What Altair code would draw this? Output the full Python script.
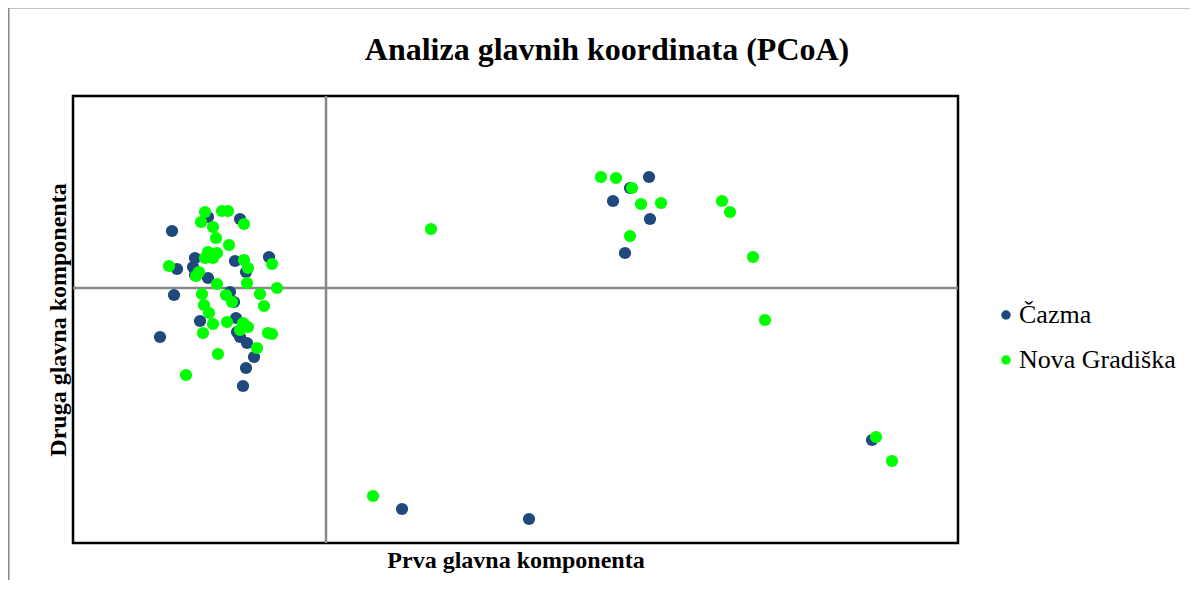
import altair as alt
import pandas as pd

# PC coordinates (arbitrary units)
cazma_pc1 = [-1.54, -0.86, -1.18, -1.31, -1.49, -0.91, -0.57, -1.33, -1.31, -1.18,
             -0.80, -1.52, -0.96, -0.92, -1.26, -0.90, -0.89, -0.86, -0.79, -1.66,
             -0.72, -0.80, -0.83, 3.04, 3.23, 2.87, 3.24, 2.99, 0.76, 2.03, 5.46]
cazma_pc2 = [0.57, 0.69, 0.71, 0.30, 0.19, 0.27, 0.31, 0.21, 0.13, 0.10,
             0.16, -0.07, -0.04, -0.14, -0.33, -0.30, -0.44, -0.49, -0.55, -0.49,
             -0.69, -0.80, -0.98, 1.00, 1.11, 0.87, 0.69, 0.35, -2.21, -2.31, -1.52]

nova_pc1 = [-1.21, -1.04, -0.98, -1.25, -0.82, -1.13, -1.10, -0.97, -1.18, -1.09,
            -1.13, -1.21, -1.57, -0.82, -0.78, -0.54, -1.27, -1.30, -1.09, -0.79,
            -0.49, -1.24, -1.00, -0.66, -0.94, -0.62, -1.22, -1.17, -1.13, -0.99,
            -1.23, -0.83, -0.78, -0.86, -0.58, -0.54, -0.69, -1.08, -1.40,
            2.75, 2.90, 3.06, 3.15, 3.35, 3.96, 4.04, 3.04, 4.27, 1.05, 4.39,
            0.47, 5.50, 5.66]
nova_pc2 = [0.76, 0.77, 0.77, 0.66, 0.64, 0.61, 0.50, 0.43, 0.36, 0.35,
            0.30, 0.30, 0.22, 0.28, 0.20, 0.24, 0.16, 0.12, 0.04, 0.05,
            0.00, -0.06, -0.07, -0.06, -0.14, -0.18, -0.17, -0.25, -0.36, -0.34,
            -0.45, -0.35, -0.39, -0.42, -0.45, -0.46, -0.60, -0.66, -0.87,
            1.11, 1.10, 1.00, 0.84, 0.85, 0.87, 0.76, 0.52, 0.31, 0.59, -0.32,
            -2.08, -1.49, -1.73]

groups = ["Čazma", "Nova Gradiška"]
colors = ["#1f497d", "#00ff00"]
title_text = ["Analiza glavnih koordinata (PCoA)"]

x_domain = [-2.53, 6.32]
y_domain = [-2.55, 1.92]

rows = []
for a, b in zip(cazma_pc1, cazma_pc2):
    rows.append({"pc1": a, "pc2": b, "grupa": groups[0], "ord": 0})
for a, b in zip(nova_pc1, nova_pc2):
    rows.append({"pc1": a, "pc2": b, "grupa": groups[1], "ord": 1})
df = pd.DataFrame(rows)

FONT = "Liberation Serif"

x_axis = alt.Axis(title="Prva glavna komponenta", labels=False, ticks=False, domain=False,
                  grid=False, titleFont=FONT, titleFontSize=24, titleFontWeight="bold",
                  titleColor="black", titlePadding=5)
y_axis = alt.Axis(title="Druga glavna komponenta", labels=False, ticks=False, domain=False,
                  grid=False, titleFont=FONT, titleFontSize=24, titleFontWeight="bold",
                  titleColor="black", titlePadding=3)

outer = alt.Chart(pd.DataFrame({"a": [0]})).mark_rect(
    filled=False, stroke="#888888", strokeWidth=2
).encode(x=alt.value(-64.5), x2=alt.value(1300), y=alt.value(-88.5), y2=alt.value(700))

title = alt.Chart(pd.DataFrame({"t": title_text})).mark_text(
    font=FONT, fontSize=32, fontWeight="bold", color="black", align="center", baseline="middle"
).encode(text="t:N", x=alt.value(534), y=alt.value(-46))

zero_x = alt.Chart(pd.DataFrame({"v": [0]})).mark_rule(color="#888888", strokeWidth=2.5).encode(
    x=alt.X("v:Q", scale=alt.Scale(domain=x_domain, nice=False, zero=False), axis=x_axis)
)
zero_y = alt.Chart(pd.DataFrame({"v": [0]})).mark_rule(color="#888888", strokeWidth=2.5).encode(
    y=alt.Y("v:Q", scale=alt.Scale(domain=y_domain, nice=False, zero=False), axis=y_axis)
)

points = alt.Chart(df).mark_circle(size=150, opacity=1).encode(
    x=alt.X("pc1:Q", scale=alt.Scale(domain=x_domain, nice=False, zero=False), axis=x_axis),
    y=alt.Y("pc2:Q", scale=alt.Scale(domain=y_domain, nice=False, zero=False), axis=y_axis),
    color=alt.Color("grupa:N", scale=alt.Scale(domain=groups, range=colors),
                    legend=alt.Legend(title=None, orient="none", legendX=920, legendY=206,
                                      labelFont=FONT, labelFontSize=26, labelColor="black",
                                      symbolType="circle", symbolSize=90, symbolStrokeWidth=0,
                                      rowPadding=19, labelOffset=0)),
    order=alt.Order("ord:Q"),
)

chart = alt.layer(outer, title, zero_x, zero_y, points).properties(
    width=885, height=447,
    background="white",
    autosize=alt.AutoSizeParams(type="none"),
    padding={"left": 65, "top": 88, "right": 232, "bottom": 37},
).configure_view(stroke="black", strokeWidth=2.5)

chart.save("out.html", embed_options={"renderer": "svg", "actions": False})
